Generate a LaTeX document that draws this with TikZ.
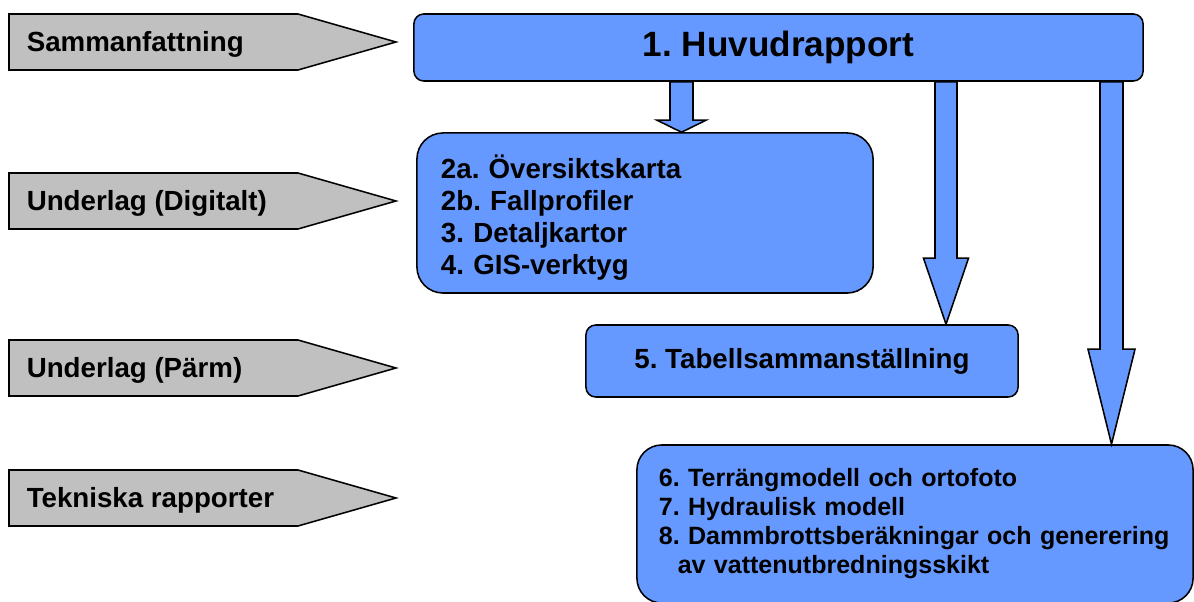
\documentclass[tikz,border=0pt]{standalone}
\usepackage{fontspec}
\setmainfont{Liberation Sans}
\usetikzlibrary{calc}
\frenchspacing

\definecolor{rapportblue}{HTML}{6699FF}
\definecolor{flikgray}{HTML}{C0C0C0}

\begin{document}
\begin{tikzpicture}[x=0.025cm, y=-0.025cm, line width=1.1pt,
  flik/.style={draw=black, fill=flikgray, line join=miter},
  fliktext/.style={anchor=west, inner sep=0pt, font=\bfseries\fontsize{19.7}{23}\selectfont},
  rapport/.style={draw=black, fill=rapportblue, inner ysep=0pt},
  pil/.style={draw=black, fill=rapportblue, line join=miter}]
  \useasboundingbox (0,0) rectangle (1194,602);

  % flikar till vänster
  \foreach \y/\namn/\txt in {42/f1/Sammanfattning, 201/f2/Underlag (Digitalt),
      368/f3/Underlag (Pärm), 498/f4/Tekniska rapporter}{
    \draw[flik] (9,\y-28) -- (298,\y-28) -- (396,\y) -- (298,\y+28) -- (9,\y+28) -- cycle;
    \node[fliktext] (\namn) at (26,\y+2) {\txt};
  }

  % rapportlådor
  \node[rapport, rounded corners=7pt, minimum width=18.225cm, minimum height=1.675cm,
        font=\bfseries\fontsize{25}{30}\selectfont] (huvud) at (778.5,47.5) {1. Huvudrapport};
  \node[rapport, rounded corners=0.65cm, minimum width=11.4cm, minimum height=4cm,
        text width=10.2cm, inner xsep=0.6cm, align=left,
        font=\bfseries\fontsize{19.7}{22.8}\selectfont] (lista) at (645,213)
        {\rule{0pt}{23pt}2a. Översiktskarta\\2b. Fallprofiler\\3. Detaljkartor\\4. GIS-verktyg};
  \node[rapport, rounded corners=7pt, minimum width=10.8cm, minimum height=1.8cm,
        font=\bfseries\fontsize{19.7}{23}\selectfont] (tabell) at (802,361) {5. Tabellsammanställning};
  \node[rapport, rounded corners=0.62cm, minimum width=13.9cm, minimum height=3.95cm,
        text width=12.8cm, inner xsep=0.55cm, align=left,
        font=\bfseries\fontsize{17.8}{20.6}\selectfont] (modell) at (915,524)
        {6. Terrängmodell och ortofoto\\7. Hydraulisk modell\\8. Dammbrottsberäkningar och generering\\
         \hspace*{0.47cm}av vattenutbredningsskikt};

  % blockpilar från huvudrapporten
  \foreach \namn/\xp/\mal/\hw/\bw/\hl in {pa/681.5/lista/11.5/24.5/12,
      pb/946/tabell/11/22.5/66, pc/1111.5/modell/11.5/23.5/95}{
    \coordinate (\namn) at (\xp,0);
    \coordinate (\namn top) at (huvud.south -| \namn);
    \coordinate (\namn tip) at (\mal.north -| \namn);
    \draw[pil] ($(\namn top)+(-\hw,0)$) -- ($(\namn tip)+(-\hw,-\hl)$)
      -- ($(\namn tip)+(-\bw,-\hl)$) -- (\namn tip) -- ($(\namn tip)+(\bw,-\hl)$)
      -- ($(\namn tip)+(\hw,-\hl)$) -- ($(\namn top)+(\hw,0)$) -- cycle;
  }
\end{tikzpicture}
\end{document}
